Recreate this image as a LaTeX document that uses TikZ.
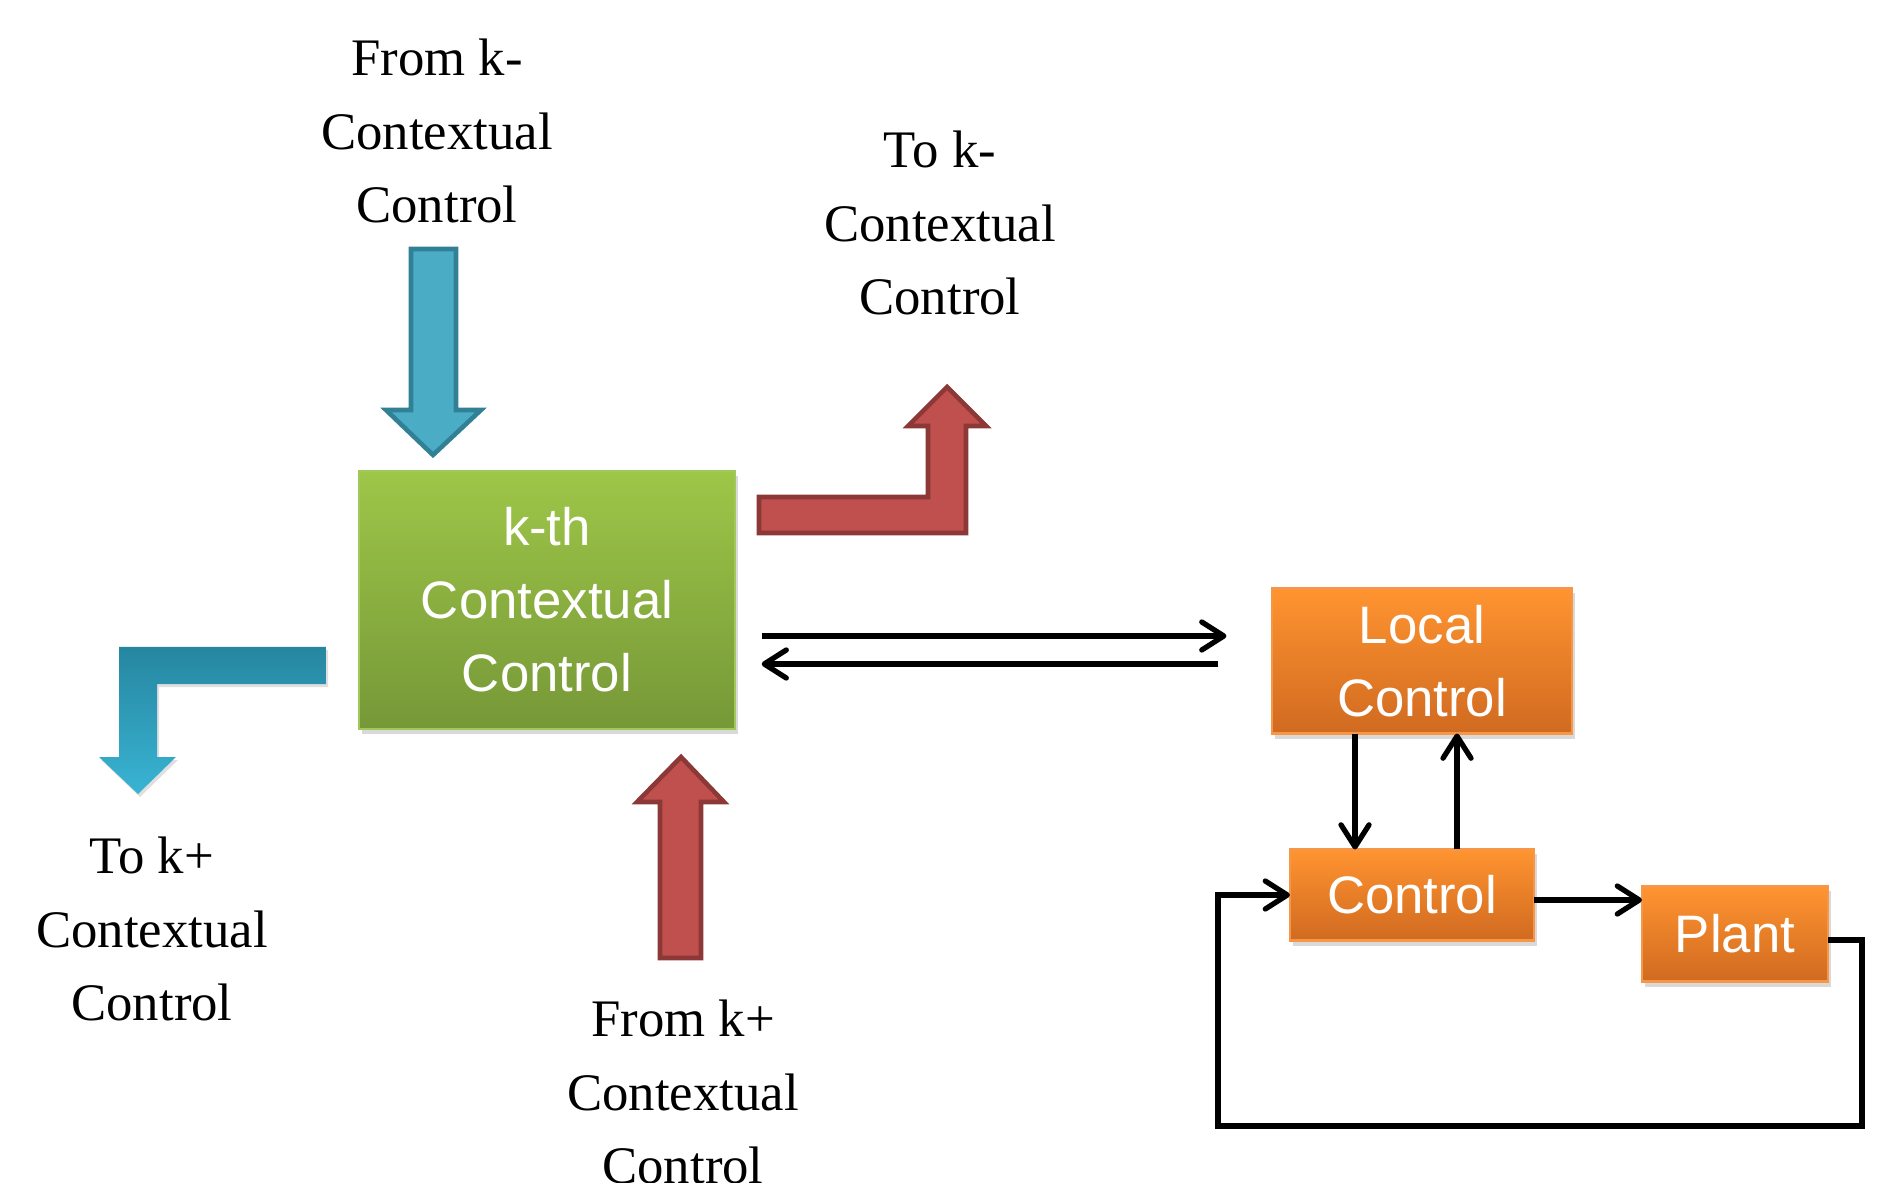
\documentclass[tikz,border=0pt]{standalone}
\usepackage{fontspec}
\setmainfont{Liberation Serif}
\setsansfont{Liberation Sans}
\usetikzlibrary{arrows.meta,calc,shadows}

\definecolor{kthtop}{RGB}{158,198,72}
\definecolor{kthbot}{RGB}{118,152,56}
\definecolor{kthline}{RGB}{160,200,90}
\definecolor{loctop}{RGB}{255,148,48}
\definecolor{locbot}{RGB}{208,106,32}
\definecolor{locline}{RGB}{247,150,70}
\definecolor{bluefill}{RGB}{75,172,198}
\definecolor{blueline}{RGB}{49,128,150}
\definecolor{bluetop}{RGB}{38,134,160}
\definecolor{bluebot}{RGB}{57,180,212}
\definecolor{redfill}{RGB}{192,80,77}
\definecolor{redline}{RGB}{140,56,54}

\begin{document}
\begin{tikzpicture}[
  x=0.01cm, y=-0.01cm,
  box/.style={rectangle, inner sep=0pt, outer sep=0pt, text=white,
    font={\sffamily\fontsize{15}{20.8}\selectfont}, align=center,
    drop shadow={opacity=0.3, shadow xshift=0.03cm, shadow yshift=-0.05cm}},
  kbox/.style={box, draw=kthline, line width=0.6pt, top color=kthtop, bottom color=kthbot},
  obox/.style={box, draw=locline, line width=0.6pt, top color=loctop, bottom color=locbot},
  lbl/.style={align=center, font={\fontsize{15}{20.9}\selectfont}},
  conn/.style={line width=1.5pt, -{Straight Barb[length=2.2mm, width=2.8mm, round]}},
  bluearrow/.style={fill=bluefill, draw=blueline, line width=1.3pt, line join=miter},
  redarrow/.style={fill=redfill, draw=redline, line width=1.3pt, line join=miter}
]
  \useasboundingbox (0,0) rectangle (1892,1183);

  % Bloky
  \node[kbox, minimum width=3.75cm, minimum height=2.57cm] (kth) at (547,600) {k-th\\Contextual\\Control};
  \node[obox, minimum width=2.99cm, minimum height=1.45cm] (loc) at (1422,661) {Local\\Control};
  \node[obox, minimum width=2.44cm, minimum height=0.91cm] (ctl) at (1412,895) {Control};
  \node[obox, minimum width=1.86cm, minimum height=0.95cm] (plant) at (1735,934) {Plant};

  % Popisky
  \node[lbl] (fromkm) at (437,131) {From k-\\Contextual\\Control};
  \node[lbl] (tokm) at (940,223) {To k-\\Contextual\\Control};
  \node[lbl] (tokp) at (152,929) {To k+\\Contextual\\Control};
  \node[lbl] (fromkp) at (683,1092) {From k+\\Contextual\\Control};

  % Blokove sipky
  \draw[bluearrow] (411,249) -- (456,249) -- (456,410) -- (481,410) -- (433,455)
    -- (386,410) -- (411,410) -- cycle;
  \draw[redarrow] (759,497) -- (928,497) -- (928,426) -- (908,426) -- (947,387)
    -- (986,426) -- (966,426) -- (966,533) -- (759,533) -- cycle;
  \shade[top color=bluetop, bottom color=bluebot,
    drop shadow={opacity=0.25, shadow xshift=0.02cm, shadow yshift=-0.03cm}]
    (326,647) -- (119,647) -- (119,757) -- (99,757) -- (138,794)
    -- (176,757) -- (157,757) -- (157,684) -- (326,684) -- cycle;
  \draw[redarrow] (660,958) -- (660,802) -- (637,802) -- (681,757) -- (724,802)
    -- (701,802) -- (701,958) -- cycle;

  % Spojeni
  \draw[conn] ($(kth.east |- 0,636)+(27,0)$) -- ($(loc.west |- 0,636)+(-46,0)$);
  \draw[conn] ($(loc.west |- 0,664)+(-54,0)$) -- ($(kth.east |- 0,664)+(27,0)$);
  \draw[conn] (loc.south -| 1355,0) -- (ctl.north -| 1355,0);
  \draw[conn] (ctl.north -| 1457,0) -- (loc.south -| 1457,0);
  \draw[conn] (ctl.east |- 0,900) -- (plant.west |- 0,900);

  % Zpetna vazba
  \coordinate (fbR) at (1862,1126);
  \coordinate (fbL) at (1218,1126);
  \draw[conn] (plant.east |- 0,940) -| (fbR) -- (fbL) |- (ctl.west);
\end{tikzpicture}
\end{document}
